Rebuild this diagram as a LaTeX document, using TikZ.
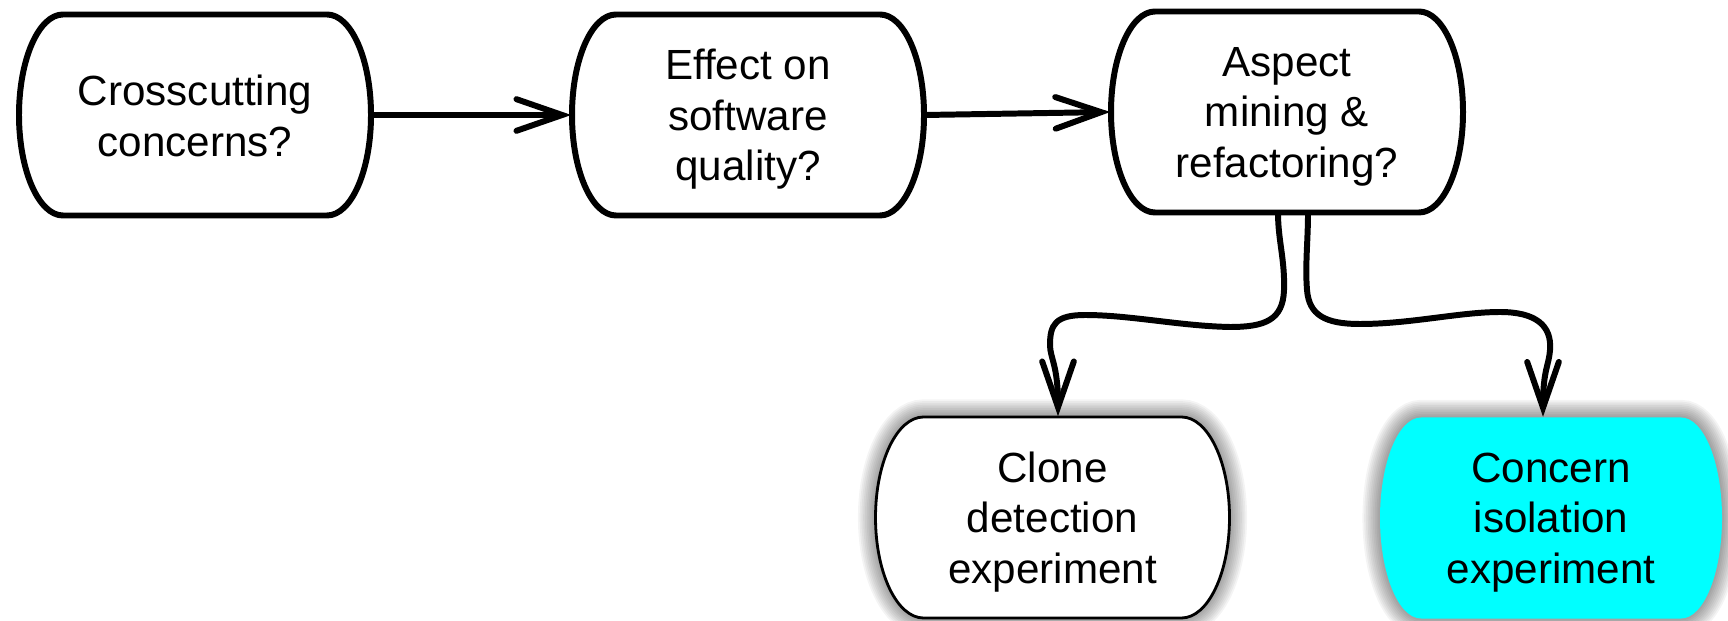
\documentclass[tikz,border=0pt]{standalone}
\usepackage{fontspec}
\setmainfont{Liberation Sans}
\usetikzlibrary{arrows.meta,calc,backgrounds}
\definecolor{aqua}{RGB}{0,255,255}
% #1 node, #2 half width, #3 half height, #4 bulge, #5 options, #6 vertical offset of the outline
\newcommand\capsule[6]{%
  \path[#5] ($(#1)+(0,#6)+(-#2+#4,#3)$) -- ($(#1)+(0,#6)+(#2-#4,#3)$)
    arc[start angle=90,end angle=-90,x radius=#4,y radius=#3]
    -- ($(#1)+(0,#6)+(-#2+#4,-#3)$)
    arc[start angle=270,end angle=90,x radius=#4,y radius=#3] -- cycle;}
\newcommand\softshadow[5]{%
  \foreach \w in {10,9,8,7,6,5,4,3,2,1}{\capsule{#1}{#2}{#3}{#4}{draw=black,draw opacity=.045,line width=\w pt,yshift=-0.4mm}{#5}}}
\begin{document}
\begin{tikzpicture}[x=0.1mm,y=0.1mm,
  txt/.style={align=center,font=\fontsize{12}{14.4}\selectfont,inner sep=0pt,minimum height=20.1mm},
  topbox/.style={txt,minimum width=35.2mm},
  conn/.style={line width=1.7pt,line cap=round,line join=round,-{Straight Barb[length=13pt,width=9pt,line cap=round]}},
  ]
\useasboundingbox (0,0) rectangle (1728,620);

\node[topbox] (n1) at (195,504) {Crosscutting\\concerns?};
\node[topbox] (n2) at (748,500.5) {Effect on\\software\\quality?};
\node[topbox] (n3) at (1287,503.5) {Aspect\\mining \&\\refactoring?};
\node[txt,minimum width=35.4mm] (clone) at (1052.5,98) {Clone\\detection\\experiment};
\node[txt,minimum width=34.2mm] (iso) at (1551,97.5) {Concern\\isolation\\experiment};

\begin{pgfonlayer}{background}
  \capsule{n1}{176}{100.5}{44}{draw=black,fill=white,line width=1.7pt}{1}
  \capsule{n2}{176}{100.5}{44}{draw=black,fill=white,line width=1.7pt}{4.5}
  \capsule{n3}{176}{100.5}{44}{draw=black,fill=white,line width=1.7pt}{4.5}
  \softshadow{clone}{177}{100.5}{48}{4.5}
  \softshadow{iso}{171}{100.5}{41}{4.5}
  \capsule{clone}{177}{100.5}{48}{draw=black,fill=white,line width=0.8pt}{4.5}
  \capsule{iso}{171}{100.5}{41}{fill=aqua}{4.5}
\end{pgfonlayer}

\draw[conn] ([yshift=0.1mm]n1.east) -- ([yshift=0.45mm]n2.west);
\draw[conn] ([yshift=0.45mm]n2.east) -- ([yshift=0.45mm]n3.west);
\draw[conn] ([xshift=-0.9mm,yshift=0.45mm]n3.south)
  .. controls (1278,380) and (1285,360) .. (1284,330)
  .. controls (1283,300) and (1265,293) .. (1230,293)
  .. controls (1180,294) and (1130,305) .. (1085,305)
  .. controls (1055,305) and (1050,295) .. (1050,275)
  .. controls (1050,262) and (1058,255) .. ([xshift=0.55mm,yshift=0.45mm]clone.north);
\draw[conn] ([xshift=2.1mm,yshift=0.45mm]n3.south)
  .. controls (1308,380) and (1305,355) .. (1307,330)
  .. controls (1309,305) and (1325,296) .. (1360,296)
  .. controls (1410,296) and (1460,308) .. (1500,308)
  .. controls (1535,308) and (1552,295) .. (1550,270)
  .. controls (1549,255) and (1543,250) .. ([xshift=-0.8mm,yshift=0.45mm]iso.north);
\end{tikzpicture}
\end{document}
